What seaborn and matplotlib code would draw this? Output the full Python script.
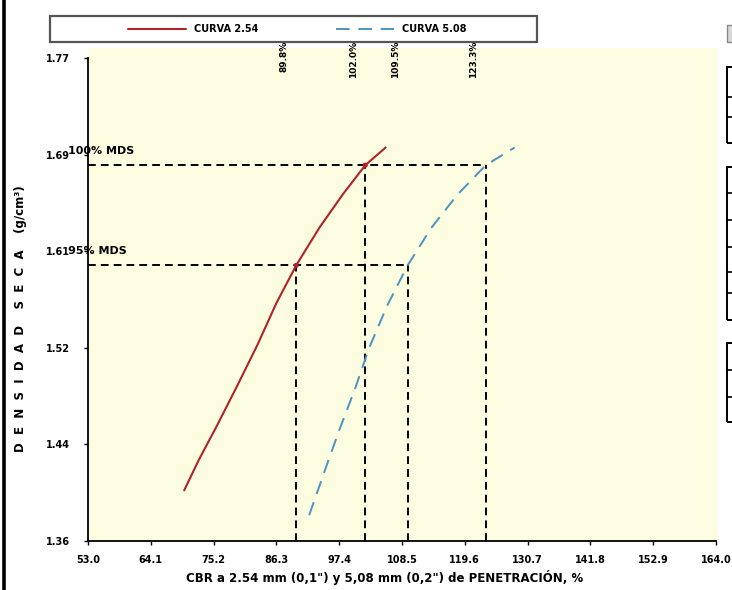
import matplotlib
matplotlib.use("Agg")
import matplotlib.pyplot as plt
from matplotlib.patches import Rectangle
from matplotlib.lines import Line2D
import seaborn as sns

# CBR vs dry density curves (2.54 mm and 5.08 mm penetration)
cbr_254 = [70.0, 72.6, 75.8, 79.4, 82.9, 86.3, 89.8, 93.9, 98.0, 102.0, 105.6]
dens_254 = [1.403, 1.429, 1.458, 1.492, 1.526, 1.562, 1.594, 1.626, 1.654, 1.679, 1.694]
cbr_508 = [92.1, 94.8, 97.4, 100.1, 102.7, 105.9, 109.5, 113.7, 118.3, 123.3, 128.4]
dens_508 = [1.382, 1.419, 1.454, 1.488, 1.524, 1.560, 1.594, 1.626, 1.654, 1.679, 1.694]

# reference densities (95% and 100% of max dry density) and CBR read at each
mds_levels = [1.594, 1.679]
mds_labels = ["95% MDS", "100% MDS"]
cbr_at_254 = [89.8, 102.0]
cbr_at_508 = [109.5, 123.3]

x_ticks = [53.0, 64.1, 75.2, 86.3, 97.4, 108.5, 119.6, 130.7, 141.8, 152.9, 164.0]
y_ticks = [1.36, 1.442, 1.524, 1.606, 1.688, 1.77]
y_tick_labels = ["1.36", "1.44", "1.52", "1.61", "1.69", "1.77"]

RED = "#B0232A"
BLUE = "#4C93C0"

sns.set_theme(style="white")
plt.rcParams["font.family"] = ["DejaVu Sans"]
plt.rcParams["text.color"] = "black"
plt.rcParams["axes.labelcolor"] = "black"

W, H = 732, 590
fig = plt.figure(figsize=(W / 100, H / 100), dpi=100)
fig.patch.set_facecolor("white")
ax = fig.add_axes([88 / W, 49 / H, 630 / W, 493 / H])
ax.set_facecolor("#FCFCE1")

sns.lineplot(x=cbr_254, y=dens_254, ax=ax, color=RED, lw=1.5, sort=False,
             estimator=None, label="CURVA 2.54")
sns.lineplot(x=cbr_508, y=dens_508, ax=ax, color=BLUE, lw=1.4, sort=False,
             estimator=None, label="CURVA 5.08", linestyle=(0, (7, 4.5)))

dash = (0, (4, 2.6))
for level, c_hi in zip(mds_levels, cbr_at_508):
    ax.hlines(level, x_ticks[0], c_hi, colors="black", linestyles=dash, lw=1.4, zorder=1)
for cvals in (cbr_at_254, cbr_at_508):
    for c, level in zip(cvals, mds_levels):
        ax.vlines(c, y_ticks[0], level, colors="black", linestyles=dash, lw=1.4, zorder=1)
ax.scatter(cbr_at_254, mds_levels, s=14, color=RED, zorder=5, edgecolor="none")

# CBR values written above the plot
for c in cbr_at_254 + cbr_at_508:
    ax.annotate(f"{c:.1f}%", xy=(c, 1), xycoords=("data", "axes fraction"),
                xytext=(-12, 7), textcoords="offset pixels", rotation=90,
                ha="center", va="top", fontsize=6.5, fontweight="bold",
                annotation_clip=False)

# MDS labels over the reference lines
for level, lab in zip(mds_levels, mds_labels):
    ax.annotate(lab, xy=(x_ticks[0], level), xytext=(-20, 14),
                textcoords="offset pixels", ha="left", va="center",
                fontsize=8, fontweight="bold", annotation_clip=False)

ax.set_xlim(53.0, 164.35)
ax.set_ylim(1.36, 1.7785)
ax.set_xticks(x_ticks)
ax.set_xticklabels([f"{v:.1f}" for v in x_ticks])
ax.set_yticks(y_ticks)
ax.set_yticklabels(y_tick_labels)
ax.tick_params(axis="x", direction="out", length=3, width=1, pad=7,
               labelsize=7, colors="black", bottom=True)
ax.tick_params(axis="y", direction="out", length=3, width=1, pad=10,
               labelsize=7, colors="black", left=True)
for lab in ax.get_xticklabels() + ax.get_yticklabels():
    lab.set_fontweight("bold")

for side in ("top", "right"):
    ax.spines[side].set_visible(False)
for side in ("left", "bottom"):
    ax.spines[side].set_color("black")
    ax.spines[side].set_linewidth(1.3)
ax.spines["left"].set_bounds(y_ticks[0], y_ticks[-1])
ax.spines["bottom"].set_bounds(x_ticks[0], x_ticks[-1])

ax.set_xlabel("CBR a 2.54 mm (0,1\") y 5,08 mm (0,2\") de PENETRACIÓN, %",
              fontsize=8.5, fontweight="bold")
ax.set_ylabel("D  E  N  S  I  D  A  D    S  E  C  A    (g/cm³)",
              fontsize=8.5, fontweight="bold")
ax.xaxis.set_label_coords(0.471, -0.058)
ax.yaxis.set_label_coords(-0.097, 0.452)

# legend in a framed strip above the plot
handles, labels = ax.get_legend_handles_labels()
ax.legend(handles, labels, loc="center", bbox_to_anchor=(297 / W, 1 - 29 / H),
          bbox_transform=fig.transFigure, ncol=2, frameon=False,
          prop={"size": 7, "weight": "bold"}, handlelength=6.0,
          handletextpad=0.8, columnspacing=8.0)
fig.add_artist(Rectangle((50 / W, 1 - 42 / H), 487 / W, 26 / H,
                         transform=fig.transFigure, facecolor="white",
                         edgecolor="#555555", lw=1.6, zorder=-1))

# sheet border on the left
fig.add_artist(Line2D([4 / W, 4 / W], [0, 1], transform=fig.transFigure,
                      color="black", lw=2.6))

# edge of the adjacent data table on the right
fig.add_artist(Rectangle((727 / W, 1 - 42 / H), 20 / W, 17 / H,
                         transform=fig.transFigure, facecolor="#D9D9D9",
                         edgecolor="#888888", lw=1.0))
for top, bottom, rows in [(67, 143, [97, 117]),
                          (167, 320, [193, 220, 247, 272, 293]),
                          (343, 422, [370, 397])]:
    fig.add_artist(Rectangle((727 / W, 1 - bottom / H), 20 / W, (bottom - top) / H,
                             transform=fig.transFigure, fill=False,
                             edgecolor="black", lw=1.4))
    for r in rows:
        fig.add_artist(Line2D([727 / W, 1], [1 - r / H, 1 - r / H],
                              transform=fig.transFigure, color="black", lw=1.2))

fig.savefig("out.png", dpi=100)
